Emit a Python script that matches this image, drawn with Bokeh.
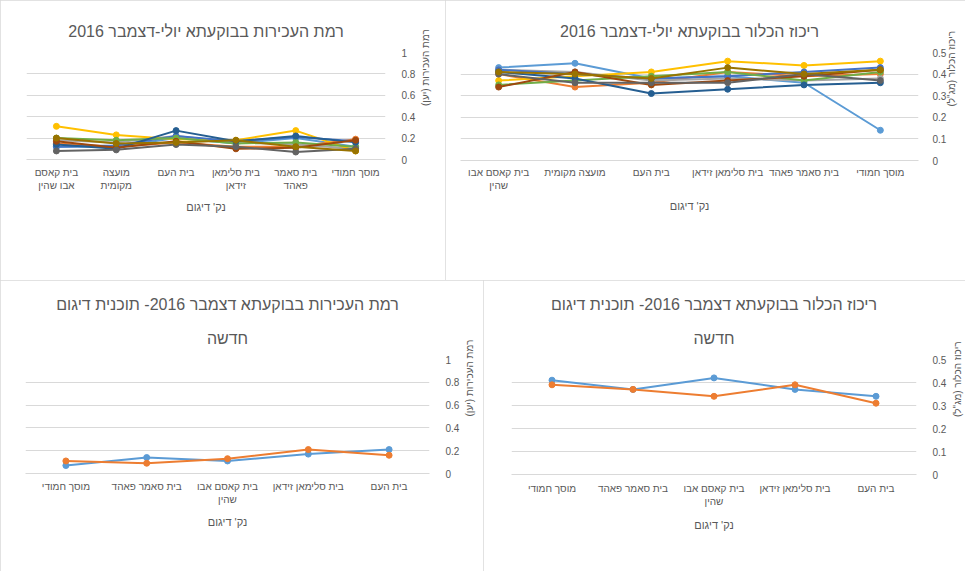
import math
from bokeh.plotting import figure
from bokeh.models import (FactorRange, Range1d, FixedTicker, Legend, LegendItem,
                          NumeralTickFormatter, Title)
from bokeh.layouts import column, row
from bokeh.embed import file_html
from bokeh.resources import INLINE

# ---------------- data ----------------
sites_top = ["בית קאסם אבו שהין", "מועצה מקומית", "בית העם", "בית סלימאן זידאן", "בית סאמר פאהד", "מוסך חמודי"]
sites_bottom = ["מוסך חמודי", "בית סאמר פאהד", "בית קאסם אבו שהין", "בית סלימאן זידאן", "בית העם"]

dates_turb = ["13.07.16", "27.07.16", "11.08.16", "24.08.16", "07.09.16",
              "21.09.16", "05.10.16", "19.10.16", "02.11.16", "16.11.16"]
dates_chl = ["13.07.16", "27.07.16", "10.08.15", "24.08.16", "07.09.16",
             "21.09.16", "05.10.16", "19.10.16", "02.11.16", "16.11.16"]
dates_dec = ["07.12.16", "21.12.16"]

turb_13_07 = [0.12, 0.12, 0.20, 0.15, 0.20, 0.12]
turb_27_07 = [0.15, 0.12, 0.16, 0.12, 0.12, 0.19]
turb_11_08 = [0.18, 0.16, 0.22, 0.16, 0.14, 0.10]
turb_24_08 = [0.31, 0.23, 0.19, 0.18, 0.27, 0.08]
turb_07_09 = [0.12, 0.13, 0.22, 0.17, 0.21, 0.17]
turb_21_09 = [0.20, 0.18, 0.20, 0.15, 0.16, 0.12]
turb_05_10 = [0.14, 0.10, 0.27, 0.17, 0.22, 0.16]
turb_19_10 = [0.17, 0.11, 0.17, 0.10, 0.11, 0.18]
turb_02_11 = [0.08, 0.09, 0.14, 0.12, 0.07, 0.10]
turb_16_11 = [0.20, 0.15, 0.16, 0.18, 0.12, 0.08]

chl_13_07 = [0.43, 0.45, 0.38, 0.39, 0.36, 0.14]
chl_27_07 = [0.40, 0.34, 0.36, 0.41, 0.39, 0.40]
chl_10_08 = [0.42, 0.41, 0.37, 0.38, 0.37, 0.38]
chl_24_08 = [0.37, 0.39, 0.41, 0.46, 0.44, 0.46]
chl_07_09 = [0.42, 0.40, 0.38, 0.39, 0.41, 0.43]
chl_21_09 = [0.35, 0.37, 0.39, 0.41, 0.37, 0.41]
chl_05_10 = [0.41, 0.38, 0.31, 0.33, 0.35, 0.36]
chl_19_10 = [0.34, 0.41, 0.35, 0.37, 0.39, 0.42]
chl_02_11 = [0.40, 0.36, 0.36, 0.36, 0.40, 0.37]
chl_16_11 = [0.41, 0.40, 0.38, 0.43, 0.40, 0.42]

turb_07_12 = [0.07, 0.14, 0.11, 0.17, 0.21]
turb_21_12 = [0.11, 0.09, 0.13, 0.21, 0.16]
chl_07_12 = [0.41, 0.37, 0.42, 0.37, 0.34]
chl_21_12 = [0.39, 0.37, 0.34, 0.39, 0.31]

turb_series = [turb_13_07, turb_27_07, turb_11_08, turb_24_08, turb_07_09,
               turb_21_09, turb_05_10, turb_19_10, turb_02_11, turb_16_11]
chl_series = [chl_13_07, chl_27_07, chl_10_08, chl_24_08, chl_07_09,
              chl_21_09, chl_05_10, chl_19_10, chl_02_11, chl_16_11]

turb_ticks = [0, 0.2, 0.4, 0.6, 0.8, 1]
chl_ticks = [0, 0.1, 0.2, 0.3, 0.4, 0.5]

title_tl = ["רמת העכירות בבוקעתא יולי-דצמבר 2016"]
title_tr = ["ריכוז הכלור בבוקעתא יולי-דצמבר 2016"]
title_bl = ["רמת העכירות בבוקעתא דצמבר 2016- תוכנית דיגום", "חדשה"]
title_br = ["ריכוז הכלור בבוקעתא דצמבר 2016- תוכנית דיגום", "חדשה"]
ylabel_turb = "רמת העכירות (יען)"
ylabel_chl = "ריכוז הכלור (מג\"ל)"
xlabel = "נק' דיגום"

wrap_tl = {"בית קאסם אבו שהין": "בית קאסם\nאבו שהין", "מועצה מקומית": "מועצה\nמקומית",
           "בית סלימאן זידאן": "בית סלימאן\nזידאן", "בית סאמר פאהד": "בית סאמר\nפאהד"}
wrap_tr = {"בית קאסם אבו שהין": "בית קאסם אבו\nשהין"}
wrap_b = {"בית קאסם אבו שהין": "בית קאסם אבו\nשהין"}

palette10 = ["#5B9BD5", "#ED7D31", "#A5A5A5", "#FFC000", "#4472C4",
             "#70AD47", "#255E91", "#9E480E", "#636363", "#997300"]

FONT = "Liberation Sans"
TXT = "#595959"
GRID = "#D9D9D9"


def rtl(s):
    return "\u202B" + s + "\u202C"


def make_fig(frame_w, frame_h, factors, ymax, ticks, title_lines, ylabel, borders,
             title_standoff, lab_standoff, axlab_standoff, ytick_standoff, ylab_standoff):
    bl, br, bt, bb = borders
    p = figure(width=bl + frame_w + br, height=bt + frame_h + bb,
               frame_width=frame_w, frame_height=frame_h,
               x_range=FactorRange(factors=factors), y_range=Range1d(0, ymax),
               y_axis_location="right", output_backend="svg", toolbar_location=None,
               min_border_left=bl, min_border_right=br, min_border_top=bt, min_border_bottom=bb,
               title=None)
    lines = list(reversed(title_lines))
    for i, line in enumerate(lines):
        t = Title(text=rtl(line), align="center",
                  text_font=FONT, text_font_size="16px",
                  text_font_style="normal", text_color=TXT,
                  standoff=title_standoff if i == 0 else 3)
        p.add_layout(t, "above")
    p.outline_line_color = None
    p.background_fill_color = "white"
    p.border_fill_color = "white"
    p.xgrid.grid_line_color = None
    p.ygrid.grid_line_color = GRID
    p.ygrid.grid_line_width = 1

    ya = p.yaxis[0]
    ya.ticker = FixedTicker(ticks=ticks)
    ya.formatter = NumeralTickFormatter(format="0.[0]")
    ya.axis_line_color = None
    ya.major_tick_line_color = None
    ya.minor_tick_line_color = None
    ya.major_label_text_font = FONT
    ya.major_label_text_font_size = "10px"
    ya.major_label_text_color = TXT
    ya.major_label_standoff = ytick_standoff
    ya.axis_label = rtl(ylabel)
    ya.axis_label_text_font = FONT
    ya.axis_label_text_font_size = "10px"
    ya.axis_label_text_font_style = "normal"
    ya.axis_label_text_color = TXT
    ya.axis_label_standoff = ylab_standoff
    if hasattr(ya, "axis_label_orientation"):
        ya.axis_label_orientation = math.pi / 2

    xa = p.xaxis[0]
    xa.axis_line_color = GRID
    xa.major_tick_line_color = None
    xa.minor_tick_line_color = None
    xa.major_label_text_font = FONT
    xa.major_label_text_font_size = "10px"
    xa.major_label_text_color = TXT
    xa.major_label_standoff = lab_standoff
    xa.axis_label = rtl(xlabel)
    xa.axis_label_text_font = FONT
    xa.axis_label_text_font_size = "11px"
    xa.axis_label_text_font_style = "normal"
    xa.axis_label_text_color = TXT
    xa.axis_label_standoff = axlab_standoff
    p.styles = {"outline": "1px solid #D9D9D9", "outline-offset": "-1px"}
    return p


def add_series(p, factors, series, labels, colors, per_row, legend_x, legend_ys):
    items = []
    for vals, lab, col in zip(series, labels, colors):
        l = p.line(x=factors, y=vals, line_color=col, line_width=2)
        s = p.scatter(x=factors, y=vals, size=6, fill_color=col, line_color=col)
        items.append(LegendItem(label=lab, renderers=[l, s]))
    for k, ly in zip(range(0, len(items), per_row), legend_ys):
        leg = Legend(items=items[k:k + per_row], orientation="horizontal",
                     location=(legend_x, ly),
                     border_line_color=None, background_fill_alpha=0,
                     label_text_font=FONT, label_text_font_size="11.5px", label_text_color=TXT,
                     glyph_width=24, glyph_height=16, label_height=16, label_standoff=2,
                     spacing=4, padding=2, margin=0)
        p.add_layout(leg)


f_tl = [wrap_tl.get(s, s) for s in sites_top]
f_tr = [wrap_tr.get(s, s) for s in sites_top]
f_b = [wrap_b.get(s, s) for s in sites_bottom]

# top-left: 445 x 280
p1 = make_fig(359, 107, f_tl, 1, turb_ticks, title_tl, ylabel_turb,
              (26, 60, 52, 121), 25, 1, 7, 10, 7)
add_series(p1, f_tl, turb_series, dates_turb, palette10, 5, 15, [-84, -104])

# top-right: 519 x 280
p2 = make_fig(458, 108, f_tr, 0.5, chl_ticks, title_tr, ylabel_chl,
              (15, 46, 52, 120), 25, 0, 6, 8, 2)
add_series(p2, f_tr, chl_series, dates_chl, palette10, 5, 65, [-86, -106])

# bottom-left: 480 x 291
p3 = make_fig(404, 114, f_b, 1, turb_ticks, title_bl, ylabel_turb,
              (25, 51, 76, 101), 26, 1, 8, 10, 7)
add_series(p3, f_b, [turb_07_12, turb_21_12], dates_dec, palette10[:2], 2, 153, [-92])

# bottom-right: 484 x 291
p4 = make_fig(405, 115, f_b, 0.5, chl_ticks, title_br, ylabel_chl,
              (28, 51, 79, 97), 26, 2, 9, 10, 8)
add_series(p4, f_b, [chl_07_12, chl_21_12], dates_dec, palette10[:2], 2, 151, [-93])

layout = column(row(p1, p2), row(p3, p4))
open("out.html", "w").write(file_html(layout, INLINE))
